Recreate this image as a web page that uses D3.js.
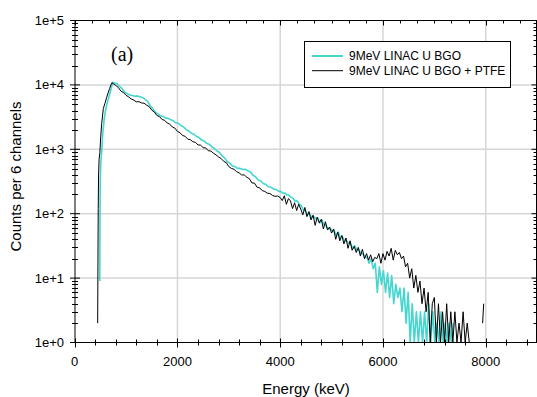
<!DOCTYPE html>
<html><head><meta charset="utf-8">
<script src="https://cdn.jsdelivr.net/npm/d3@7"></script>
<style>
body{margin:0;background:#fff;}
svg{display:block;font-family:"Liberation Sans",Arial,sans-serif;}
</style>
</head><body>
<svg id="chart" width="537" height="397"></svg>
<script>
// ---------- data ----------
const seriesNames = ["9MeV LINAC U BGO", "9MeV LINAC U BGO + PTFE"];
const seriesColors = ["#45D6CF", "#000000"];
const xTickValues = [0, 2000, 4000, 6000, 8000];
const xTickLabels = ["0", "2000", "4000", "6000", "8000"];
const yTickValues = [1, 10, 100, 1000, 10000, 100000];
const yTickLabels = ["1e+0", "1e+1", "1e+2", "1e+3", "1e+4", "1e+5"];
const xLabel = "Energy (keV)";
const yLabel = "Counts per 6 channels";
const panelLabel = "(a)";

// cyan: 9MeV LINAC U BGO
const cyanE = [488,492,497,505,515,525,545,575,607,640,672,705,740,
780,820,870,920,970,1020,1070,1120,1170,1220,1270,1320,1370,1420,1470,1520,1570,1620,1670,1720,1770,1820,1870,1920,1970,
2020,2070,2120,2170,2220,2270,2320,2370,2420,2470,2520,2570,2620,2670,2720,2770,2820,2870,2920,2970,
3020,3070,3120,3170,3220,3270,3320,3370,3420,3470,3520,3570,3620,3670,3720,3770,3820,3870,3920,3970,
4010,4050,4090,4130,4170,4210,4250,4290,4330,4370,4410,4450,4490,4530,4570,4610,4650,4690,4730,4770,
4810,4850,4890,4930,4970,5010,5050,5090,5130,5170,5210,5250,5290,5330,5370,5410,5450,5490,5530,5570,
5610,5650,5690,5730,5770,5810,5850,5890,5930,5970,6010,6050,6090,6130,6170,6210,6250,6290,6330,6370,
6410,6450,6490,6530,6570,6610,6650,6690,6730,6770,6810,6850,6890,6930,6970,7010,7050,7090,7130,7170,
7210,7250,7290,7330,7370];
const cyanC = [9,80,300,550,750,900,1700,3000,4300,5500,6800,8500,11000,
10600,10500,9500,8800,7700,7350,6950,6850,6650,6750,6550,6350,5950,5550,4750,4250,3750,3550,3300,3250,3050,3020,2880,2770,2580,
2520,2330,2220,2030,1920,1780,1720,1580,1520,1390,1340,1240,1190,1090,1030,940,890,790,730,640,
610,550,540,505,505,485,490,465,445,395,375,335,325,295,285,262,258,242,238,222,
222,208,210,196,195,180,174,156,158,140,134,114,112,98,100,88,90,84,86,72,
80,68,66,58,60,55,54,46,52,42,44,38,38,35,34,29,32,27,28,24,
24,21,21,17,20,14,17,6,15,8,13,6,12,5,11,4,8,5,7,3,
7,2,6,1,4,1,3,1,3,1,3,1,4,1,3,1,2,1,3,1,
2,1,2,1,2];

// black: 9MeV LINAC U BGO + PTFE
const blackE = [447,452,458,465,475,490,505,525,557,590,620,650,680,705,725,760,800,850,900,950,
1000,1050,1100,1150,1200,1250,1300,1350,1400,1450,1500,1550,1600,1650,1700,1750,1800,1850,1900,1950,
2000,2050,2100,2150,2200,2250,2300,2350,2400,2450,2500,2550,2600,2650,2700,2750,2800,2850,2900,2950,
3000,3050,3100,3150,3200,3250,3300,3350,3400,3450,3500,3550,3600,3650,3700,3750,3800,3850,3900,3950,
4000,4040,4080,4120,4160,4200,4240,4280,4320,4360,4400,4440,4480,4520,4560,4600,4640,4680,4720,4760,
4800,4840,4880,4920,4960,5000,5040,5080,5120,5160,5200,5240,5280,5320,5360,5400,5440,5480,5520,5560,
5600,5640,5680,5720,5760,5800,5840,5880,5920,5960,6000,6040,6080,6120,6160,6200,6240,6280,6320,6360,
6400,6440,6480,6520,6560,6600,6640,6680,6720,6760,6800,6840,6880,6920,6960,7000,7040,7080,7120,7160,
7200,7240,7280,7320,7360,7400,7440,7480,7520,7560,7600,7640,7680,7720,7760,7920,7940,7960,7980];
const blackC = [2,15,120,400,700,900,1500,2500,4300,5200,6300,7500,8800,10000,10800,10300,9800,9100,8000,7600,
6900,6500,6050,5800,5450,5500,5250,5200,4850,4600,4050,3800,3350,3220,2900,2820,2560,2460,2220,2130,
1890,1810,1640,1590,1440,1410,1310,1280,1170,1160,1060,1050,950,940,870,820,760,720,650,620,
540,505,490,450,430,400,400,368,350,300,298,258,252,228,222,208,206,192,186,188,
178,160,190,140,172,158,120,148,112,140,118,96,125,90,108,80,95,66,88,72,
82,58,75,56,62,50,58,40,52,38,46,34,42,29,38,27,31,25,30,22,
28,20,24,19,23,18,21,20,24,17,24,19,26,22,29,19,27,23,25,20,
22,15,17,10,14,7,11,6,9,4,7,3,6,1,4,5,1,4,1,3,
1,4,1,3,1,3,1,2,1,3,1,2,1,1,0,0,2,4,0];

// ---------- chart ----------
const svg = d3.select("#chart");
const L = 75, R = 536.5, T = 20.5, B = 342.5;
const x = d3.scaleLinear().domain([0, 9000]).range([74.7, 537.1]);
const y = d3.scaleLog().domain([1, 1e5]).range([B, T]);

svg.append("defs").append("clipPath").attr("id", "clip")
  .append("rect").attr("x", L).attr("y", T - 1).attr("width", R - L).attr("height", B - T + 1);

// gridlines
const grid = svg.append("g").attr("stroke", "#d6d6d6").attr("stroke-width", 1.5);
xTickValues.filter(v => v > 0).forEach(v => {
  grid.append("line").attr("x1", x(v)).attr("x2", x(v)).attr("y1", T).attr("y2", B);
});
yTickValues.filter(v => v > 1 && v < 1e5).forEach(v => {
  grid.append("line").attr("x1", L).attr("x2", R).attr("y1", y(v)).attr("y2", y(v));
});

// series
function drawSeries(E, C, color, width) {
  const pts = E.map((e, i) => ({e, c: C[i]}));
  const line = d3.line().defined(d => d.c > 0).x(d => x(d.e)).y(d => y(d.c));
  svg.append("path").datum(pts).attr("clip-path", "url(#clip)")
    .attr("fill", "none").attr("stroke", color).attr("stroke-width", width)
    .attr("stroke-linejoin", "round").attr("d", line);
}
drawSeries(cyanE, cyanC, seriesColors[0], 1.6);
drawSeries(blackE, blackC, seriesColors[1], 1);

// axes
const ax = svg.append("g").attr("stroke", "#000").attr("stroke-width", 1).attr("fill", "none");
ax.append("line").attr("x1", L).attr("x2", L).attr("y1", T).attr("y2", B);
ax.append("line").attr("x1", L).attr("x2", R + 0.5).attr("y1", B).attr("y2", B);
ax.append("line").attr("x1", L).attr("x2", R + 0.5).attr("y1", T).attr("y2", T);
ax.append("line").attr("x1", R).attr("x2", R).attr("y1", T).attr("y2", B);

// bottom ticks (minor every 400)
d3.range(0, 9001, 400).forEach(v => {
  const major = v % 2000 === 0;
  const px = Math.round(x(v)) + 0.5;
  ax.append("line").attr("x1", px).attr("x2", px)
    .attr("y1", B - (major ? 4 : 3)).attr("y2", B + (major ? 5 : 3));
});
// top ticks (minor every 2000/6)
d3.range(0, 54).map(i => i * 2000 / 6).filter(v => v <= 9000).forEach((v, i) => {
  const major = i % 6 === 0;
  const px = Math.round(x(v)) + 0.5;
  ax.append("line").attr("x1", px).attr("x2", px).attr("y1", T).attr("y2", T + (major ? 5 : 3));
});
// left / right ticks
const yMinor = [];
[1, 10, 100, 1000, 10000].forEach(d => { for (let k = 2; k <= 9; k++) yMinor.push(d * k); });
yMinor.forEach(v => {
  const py = Math.round(y(v)) + 0.5;
  ax.append("line").attr("x1", L - 3).attr("x2", L + 3).attr("y1", py).attr("y2", py);
  ax.append("line").attr("x1", R - 3).attr("x2", R).attr("y1", py).attr("y2", py);
});
yTickValues.forEach(v => {
  const py = y(v);
  ax.append("line").attr("x1", L - 5).attr("x2", L + 5).attr("y1", py).attr("y2", py);
  ax.append("line").attr("x1", R - 5).attr("x2", R).attr("y1", py).attr("y2", py);
});

// tick labels
const tl = svg.append("g").attr("font-size", 13).attr("fill", "#000");
yTickValues.forEach((v, i) => {
  tl.append("text").attr("x", 64).attr("y", y(v) + 4.5).attr("text-anchor", "end").text(yTickLabels[i]);
});
xTickValues.forEach((v, i) => {
  tl.append("text").attr("x", x(v)).attr("y", 365.5).attr("text-anchor", "middle").text(xTickLabels[i]);
});

// axis titles
svg.append("text").attr("x", 306).attr("y", 394).attr("text-anchor", "middle")
  .attr("font-size", 15).text(xLabel);
svg.append("text").attr("transform", "translate(21,176.5) rotate(-90)").attr("text-anchor", "middle")
  .attr("font-size", 15).text(yLabel);

// panel label
svg.append("text").attr("x", 111).attr("y", 61).attr("font-family", "'Liberation Serif','Times New Roman',serif")
  .attr("font-size", 20).text(panelLabel);

// legend
const lg = svg.append("g");
lg.append("rect").attr("x", 304.5).attr("y", 41.5).attr("width", 206).attr("height", 46)
  .attr("fill", "#fff").attr("stroke", "#000").attr("stroke-width", 1);
seriesNames.forEach((n, i) => {
  const ly = 56 + i * 14.7;
  lg.append("line").attr("x1", 312).attr("x2", 343).attr("y1", ly).attr("y2", ly)
    .attr("stroke", seriesColors[i]).attr("stroke-width", i === 0 ? 2 : 1);
  lg.append("text").attr("x", 349).attr("y", ly + 4.3).attr("font-size", 12).text(n);
});
</script>
</body></html>
